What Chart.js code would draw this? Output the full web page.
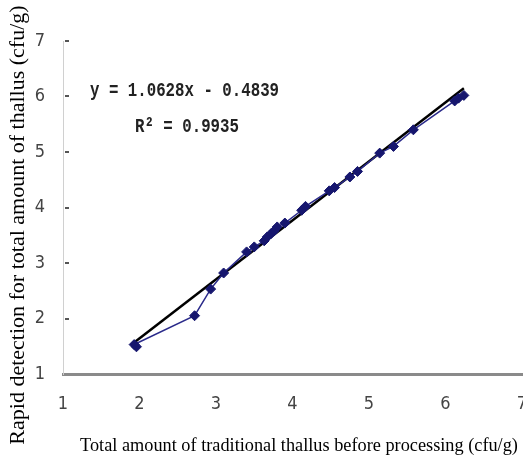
<!DOCTYPE html>
<html>
<head>
<meta charset="utf-8">
<script src="https://cdn.jsdelivr.net/npm/chart.js@4.4.1/dist/chart.umd.min.js"></script>
<style>
  html, body { margin: 0; padding: 0; background: #fff; }
  canvas { display: block; }
</style>
</head>
<body>
<canvas id="c" width="523" height="459"></canvas>
<script>
// traditional count (x) vs rapid detection (y), log cfu/g
const tradX  = [1.96, 1.93, 2.72, 2.93, 3.10, 3.40, 3.50, 3.63, 3.67, 3.72, 3.76, 3.80, 3.90,
                4.12, 4.17, 4.48, 4.55, 4.75, 4.85, 5.14, 5.32, 5.58, 6.12, 6.17, 6.24];
const rapidY = [1.49, 1.53, 2.05, 2.53, 2.82, 3.20, 3.29, 3.40, 3.47, 3.53, 3.58, 3.65, 3.72,
                3.95, 4.02, 4.30, 4.36, 4.55, 4.65, 4.98, 5.10, 5.40, 5.92, 5.97, 6.02];
const xTicks = [1, 2, 3, 4, 5, 6, 7];
const yTicks = [1, 2, 3, 4, 5, 6, 7];

const slope = 1.0628;
const intercept = -0.4839;
const r2 = 0.9935;

const xTitle = 'Total amount of traditional thallus before processing (cfu/g)';
const yTitle = 'Rapid detection for total amount of thallus (cfu/g)';

const points = tradX.map((x, i) => ({ x, y: rapidY[i] }));
const xLo = Math.min(...tradX), xHi = Math.max(...tradX);
const trend = [xLo, xHi].map(x => ({ x, y: slope * x + intercept }));

const tickFont = { family: "'Liberation Sans Narrow', 'DejaVu Sans Condensed', 'DejaVu Sans', sans-serif", size: 18 };

const decor = {
  id: 'decor',
  afterDraw(chart) {
    const { ctx, chartArea, scales } = chart;
    ctx.save();
    // short inner tick dashes on the y axis
    ctx.strokeStyle = '#555';
    ctx.lineWidth = 2;
    yTicks.slice(1).forEach(v => {
      const py = Math.round(scales.y.getPixelForValue(v));
      ctx.beginPath();
      ctx.moveTo(chartArea.left + 2, py);
      ctx.lineTo(chartArea.left + 6, py);
      ctx.stroke();
    });

    // regression equation, narrow monospace
    ctx.fillStyle = '#222';
    ctx.font = "bold 21px 'Liberation Mono', 'DejaVu Sans Mono', monospace";
    ctx.textBaseline = 'middle';
    ctx.textAlign = 'left';
    ctx.save();
    ctx.scale(0.75, 1);
    ctx.fillText(`y = ${slope.toFixed(4)}x - ${Math.abs(intercept).toFixed(4)}`, 90 / 0.75, 91);
    ctx.fillText(`R\u00B2 = ${r2.toFixed(4)}`, 135 / 0.75, 127);
    ctx.restore();

    // axis titles
    ctx.fillStyle = '#000';
    ctx.font = "18.3px 'Liberation Serif', 'DejaVu Serif', serif";
    ctx.textAlign = 'center';
    ctx.fillText(xTitle, 299, 446);

    ctx.translate(18, 225);
    ctx.rotate(-Math.PI / 2);
    ctx.font = "22px 'Liberation Serif', 'DejaVu Serif', serif";
    ctx.fillText(yTitle, 0, 0);
    ctx.restore();
  }
};

new Chart(document.getElementById('c'), {
  type: 'scatter',
  data: {
    datasets: [
      {
        label: 'measured',
        data: points,
        showLine: true,
        borderColor: '#2a2a8a',
        borderWidth: 1.5,
        pointStyle: 'rectRot',
        pointRadius: 5,
        pointBackgroundColor: '#16166e',
        pointBorderColor: '#16166e',
        pointBorderWidth: 1,
        order: 1
      },
      {
        label: 'linear fit',
        data: trend,
        showLine: true,
        borderColor: '#000',
        borderWidth: 2.5,
        pointRadius: 0,
        order: 2
      }
    ]
  },
  options: {
    responsive: false,
    animation: false,
    layout: { autoPadding: false, padding: { left: 0, right: 1, top: 41, bottom: 0 } },
    plugins: { legend: { display: false }, tooltip: { enabled: false } },
    scales: {
      x: {
        type: 'linear',
        min: 1, max: 7,
        afterBuildTicks: s => { s.ticks = xTicks.map(value => ({ value })); },
        afterFit: s => { s.height = 85; s.paddingLeft = 0; s.paddingRight = 0; },
        grid: { display: false, drawTicks: false },
        border: { color: '#8a8a8a', width: 3 },
        ticks: { font: tickFont, color: '#444', padding: 20 }
      },
      y: {
        type: 'linear',
        min: 1, max: 7,
        afterBuildTicks: s => { s.ticks = yTicks.map(value => ({ value })); },
        afterFit: s => { s.width = 63; s.paddingTop = 0; s.paddingBottom = 0; },
        grid: { display: false, drawTicks: false },
        border: { color: '#d0d0d0', width: 1 },
        ticks: { font: tickFont, color: '#444', padding: 18 }
      }
    }
  },
  plugins: [decor]
});
</script>
</body>
</html>
